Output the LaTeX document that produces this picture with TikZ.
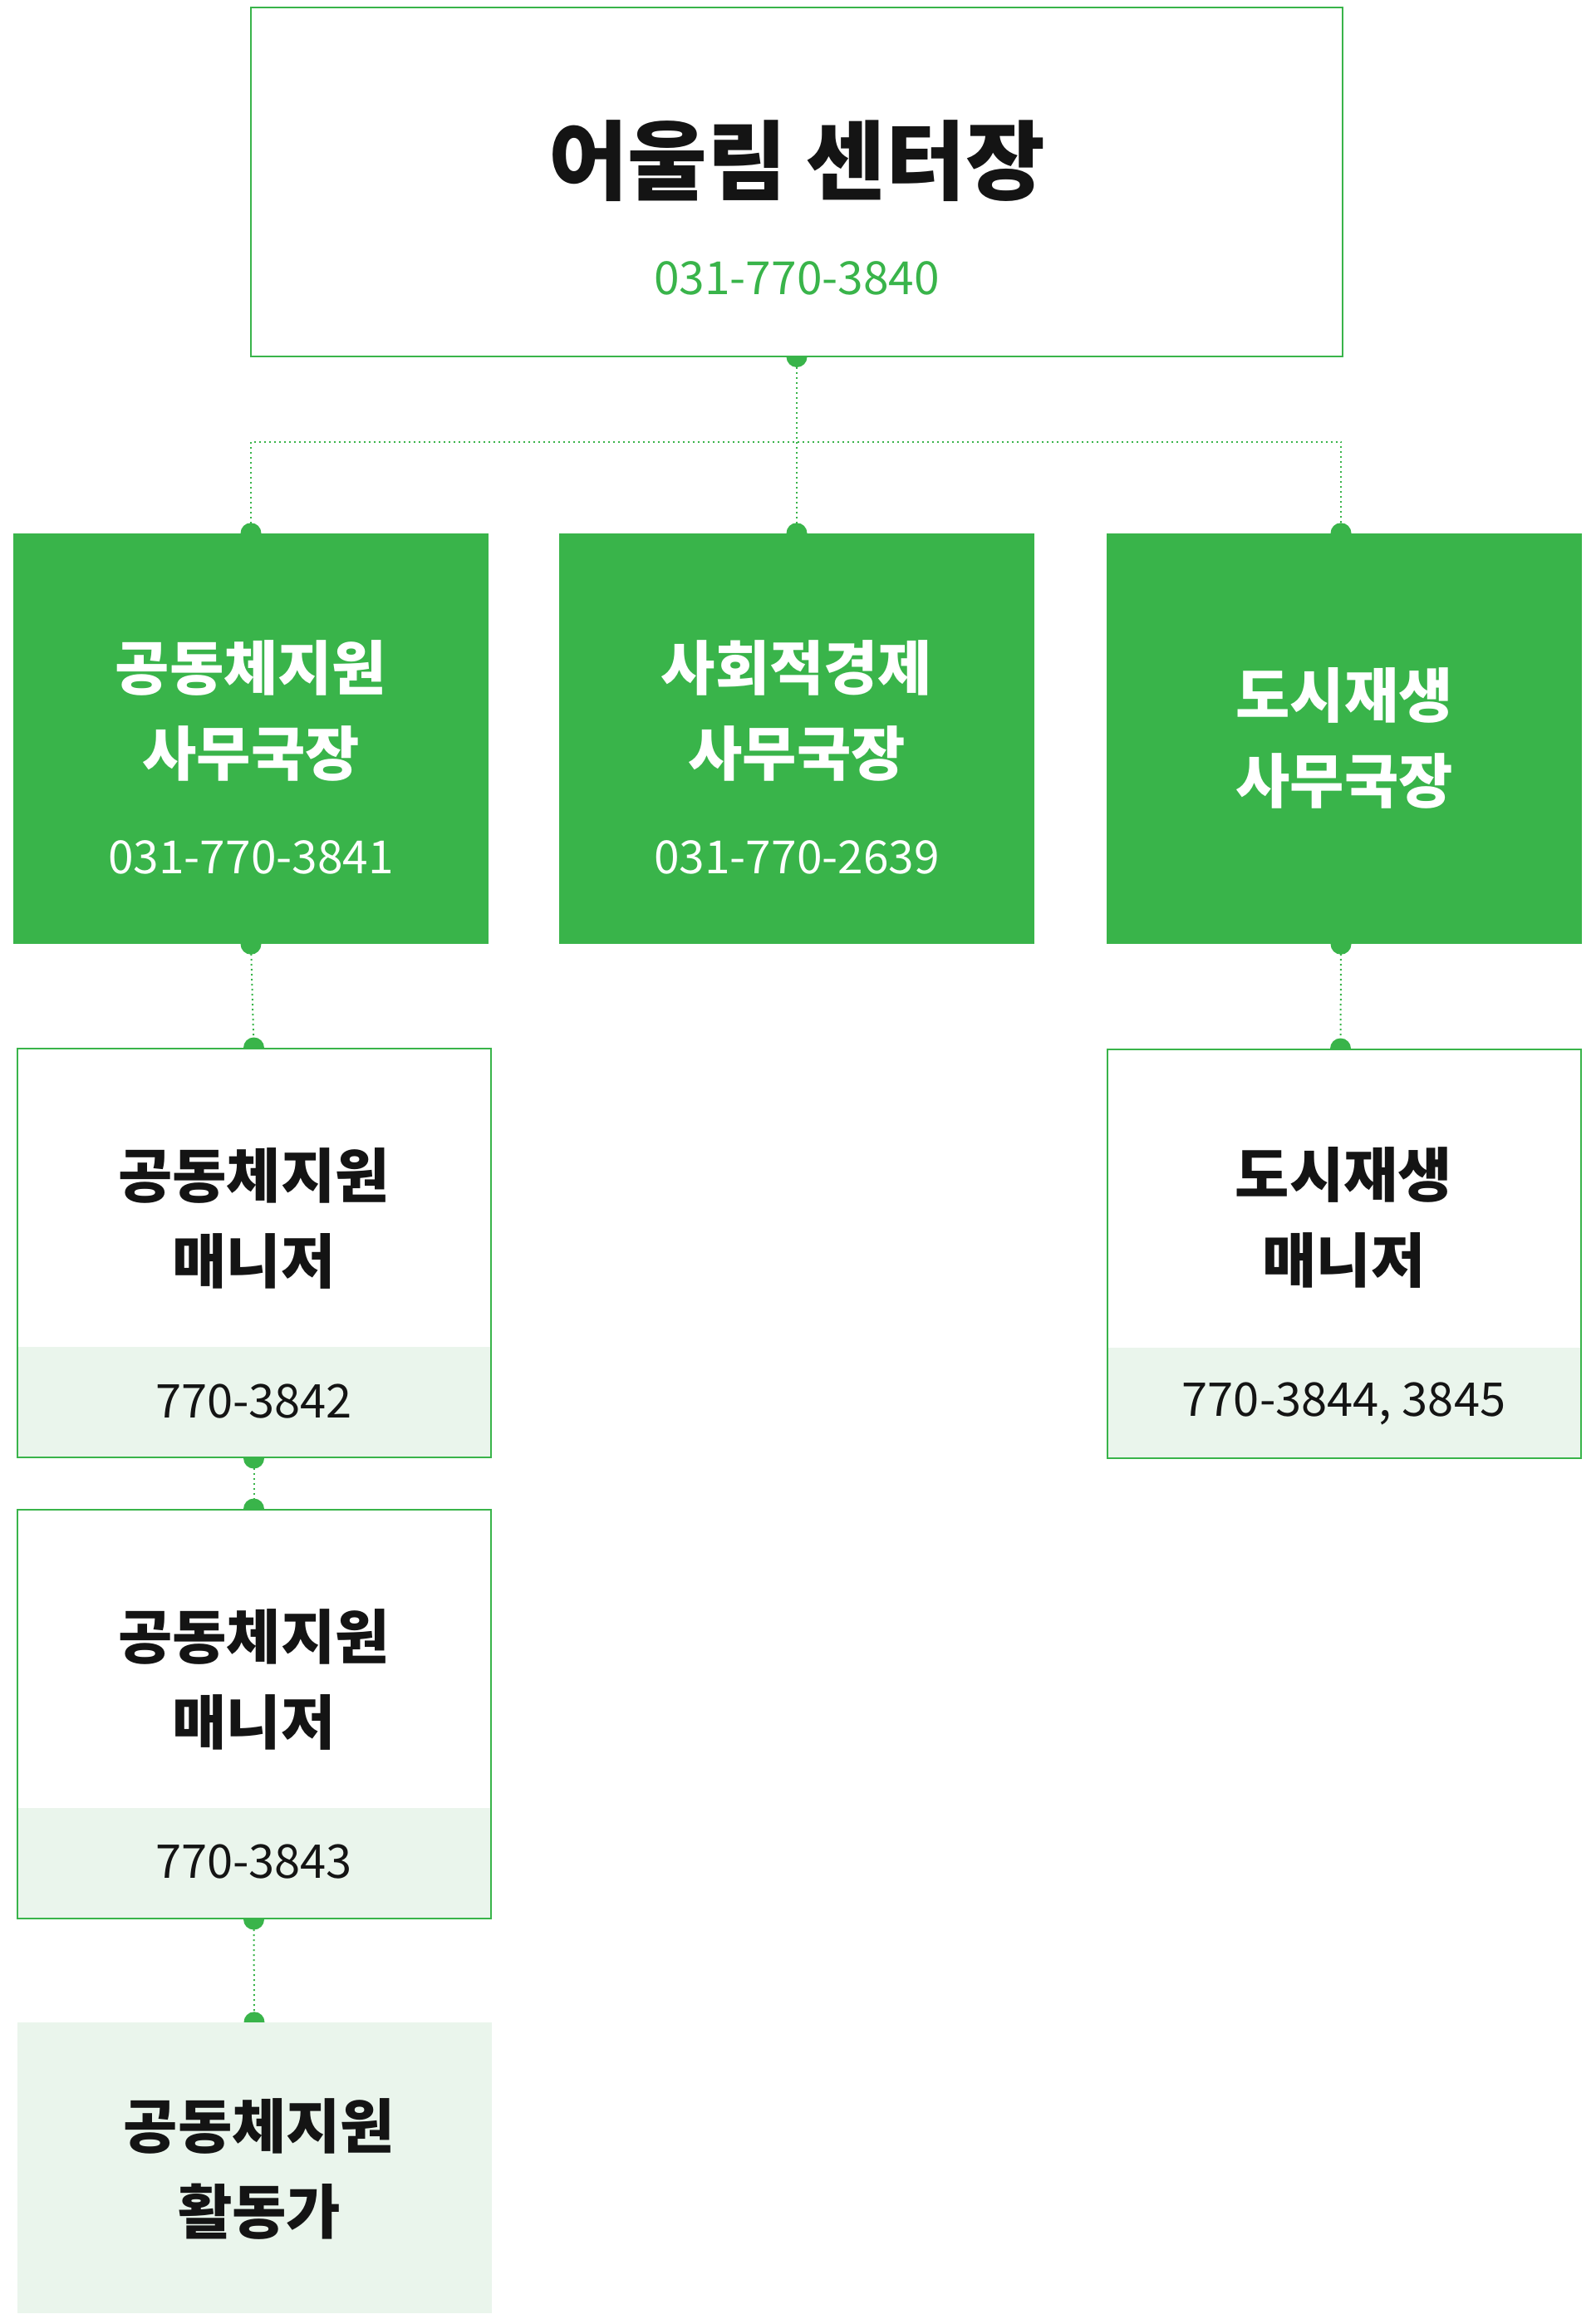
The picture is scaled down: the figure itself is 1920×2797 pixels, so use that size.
\documentclass[tikz,border=0pt]{standalone}
\usepackage{fontspec}
\setmainfont{Noto Sans CJK KR}
\usetikzlibrary{backgrounds}
\definecolor{orggreen}{RGB}{57,180,74}
\definecolor{bandgreen}{RGB}{234,245,236}
\definecolor{inkdark}{RGB}{20,20,20}

\begin{document}
\begin{tikzpicture}[x=1pt, y=-1pt,
  chiefbox/.style={draw=orggreen, line width=2pt, fill=white, minimum width=1314pt, minimum height=420pt, inner sep=0pt},
  deptbox/.style={fill=orggreen, minimum width=572pt, minimum height=494pt, inner sep=0pt},
  mgrbox/.style={draw=orggreen, line width=2pt, fill=white, minimum width=570pt, minimum height=492pt, inner sep=0pt,
    path picture={\fill[bandgreen] ([yshift=133pt]path picture bounding box.south west) rectangle (path picture bounding box.south east);}},
  actbox/.style={fill=bandgreen, minimum width=571pt, minimum height=350pt, inner sep=0pt},
  role/.style={align=center, inkdark, font=\fontsize{71}{103}\selectfont\bfseries},
  phone/.style={inkdark, font=\fontsize{55}{60}\selectfont},
  bandphone/.style={inkdark, font=\fontsize{56}{60}\selectfont},
  link/.style={orggreen, line width=2pt, dash pattern=on 2pt off 4pt}
]
  \useasboundingbox (0,0) rectangle (1920,2797);

  % top
  \node[chiefbox] (chief) at (959,218.5) {};
  \node[inkdark, font=\fontsize{104}{110}\selectfont\bfseries] (chiefname) at (959,194) {어울림 센터장};
  \node[phone, orggreen] (chieftel) at (959,335) {031-770-3840};

  % departments
  \node[deptbox] (deptA) at (302,889) {};
  \node[deptbox] (deptB) at (959,889) {};
  \node[deptbox] (deptC) at (1618,889) {};
  \node[role, white] (deptAname) at (302,855) {공동체지원\\사무국장};
  \node[phone, white] (deptAtel) at (302,1032) {031-770-3841};
  \node[role, white] (deptBname) at (959,855) {사회적경제\\사무국장};
  \node[phone, white] (deptBtel) at (959,1032) {031-770-2639};
  \node[role, white] (deptCname) at (1618,888) {도시재생\\사무국장};

  % managers
  \node[mgrbox] (mgrA) at (305.5,1508) {};
  \node[role] (mgrAname) at (305.5,1466) {공동체지원\\매니저};
  \node[bandphone] (mgrAtel) at (305.5,1687) {770-3842};
  \node[mgrbox] (mgrB) at (305.5,2063) {};
  \node[role] (mgrBname) at (305.5,2021.5) {공동체지원\\매니저};
  \node[bandphone] (mgrBtel) at (305.5,2241) {770-3843};
  \node[actbox] (act) at (306,2609) {};
  \node[role] (actname) at (312,2610) {공동체지원\\활동가};
  \node[mgrbox] (mgrC) at (1617.5,1509) {};
  \node[role] (mgrCname) at (1617.5,1465) {도시재생\\매니저};
  \node[bandphone] (mgrCtel) at (1617.5,1689) {770-3844, 3845};

  % connectors
  \coordinate (hub) at (959,531.5);
  \draw[link] (chief.south) -- (deptB.north);
  \draw[link] (deptA.north) |- (hub) -| ([xshift=-4pt]deptC.north);
  \draw[link] (deptA.south) -- (mgrA.north);
  \draw[link] (mgrA.south) -- (mgrB.north);
  \draw[link] (mgrB.south) -- (act.north);
  \draw[link] ([xshift=-4pt]deptC.south) -- ([xshift=-4pt]mgrC.north);

  \begin{scope}[on background layer]
    \foreach \p in {chief.south, deptA.north, deptB.north, deptA.south, mgrA.north,
                    mgrA.south, mgrB.north, mgrB.south, act.north}
      \fill[orggreen] (\p) circle (12.5pt);
    \foreach \p in {deptC.north, deptC.south, mgrC.north}
      \fill[orggreen] ([xshift=-4pt]\p) circle (12.5pt);
  \end{scope}
\end{tikzpicture}
\end{document}
